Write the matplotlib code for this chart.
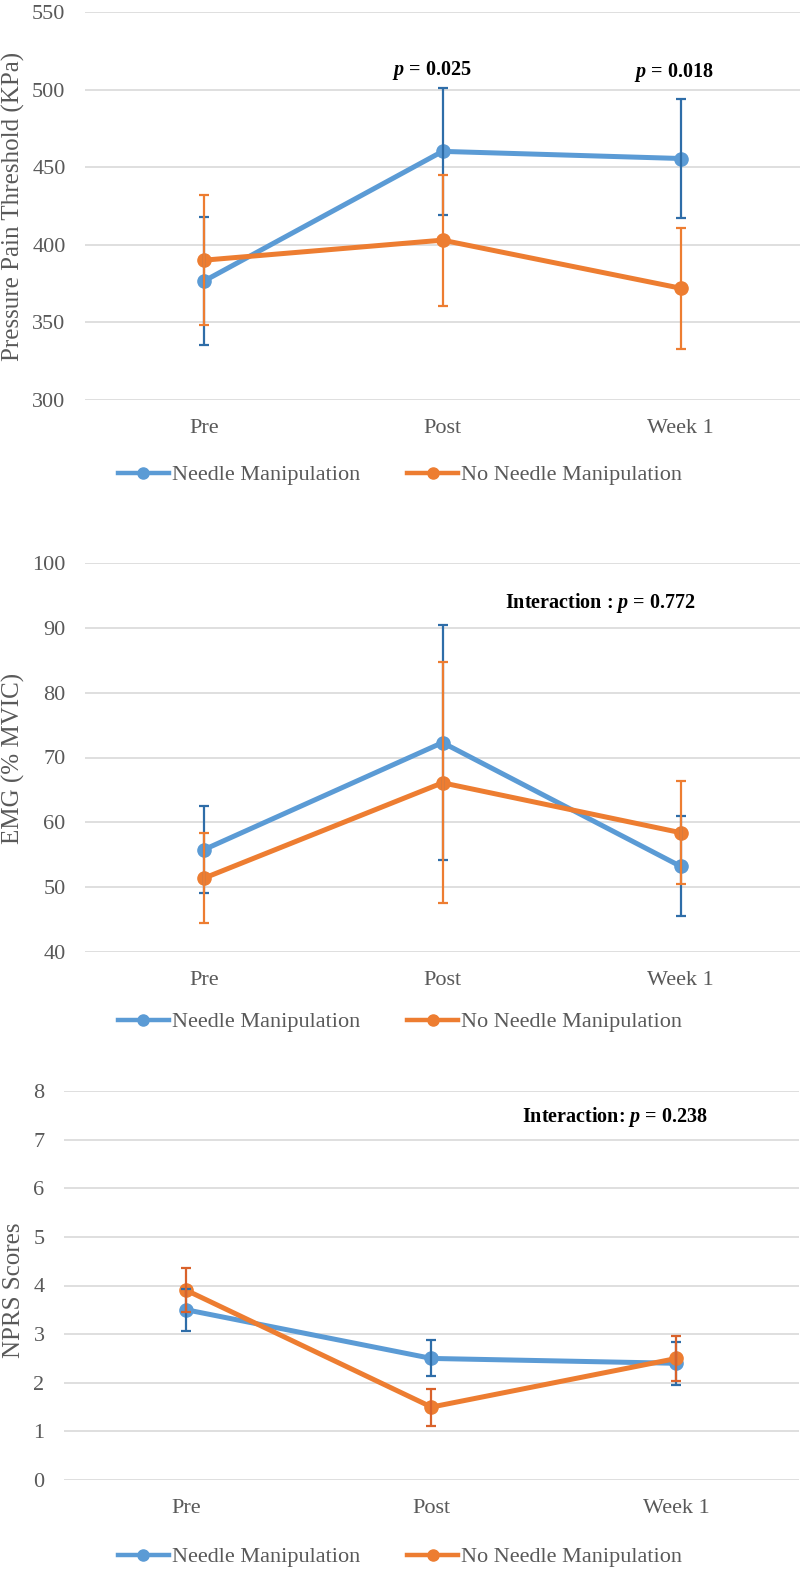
import matplotlib.pyplot as plt
from matplotlib.lines import Line2D

plt.rcParams['font.family'] = ['Liberation Serif', 'DejaVu Serif']
plt.rcParams['mathtext.fontset'] = 'custom'
plt.rcParams['mathtext.it'] = 'Liberation Serif:style=italic:weight=bold'
plt.rcParams['mathtext.rm'] = 'Liberation Serif:weight=bold'

# data
times = ['Pre', 'Post', 'Week 1']
groups = ['Needle Manipulation', 'No Needle Manipulation']

ppt_needle = [376.7, 460.2, 455.6]
ppt_needle_err = [41.2, 40.8, 38.3]
ppt_no = [390.1, 403.0, 372.0]
ppt_no_err = [42.0, 42.2, 39.1]

emg_needle = [55.8, 72.3, 53.2]
emg_needle_err = [6.75, 18.1, 7.7]
emg_no = [51.4, 66.1, 58.4]
emg_no_err = [6.9, 18.6, 7.9]

nprs_needle = [3.5, 2.5, 2.4]
nprs_needle_err = [0.43, 0.37, 0.44]
nprs_no = [3.9, 1.5, 2.5]
nprs_no_err = [0.45, 0.38, 0.47]

blue = '#5B9BD5'
orange = '#ED7D31'
blue_err = '#2E6DA8'
grey = '#595959'

W, H = 800, 1571
fig = plt.figure(figsize=(W / 100, H / 100), dpi=100)


def px_axes(left, right, top, bottom):
    return fig.add_axes([left / W, 1 - bottom / H, (right - left) / W, (bottom - top) / H])


def panel(ax, yn, en, yo, eo, ylim, yticks, orange_err):
    x = range(len(times))
    ax.plot(x, yn, color=blue, lw=3.6, marker='o', ms=9.5, zorder=3, label=groups[0])
    ax.plot(x, yo, color=orange, lw=3.6, marker='o', ms=9.5, zorder=4, label=groups[1])
    ax.errorbar(x, yn, yerr=en, fmt='none', ecolor=blue_err, elinewidth=1.6,
                capsize=3.6, capthick=1.6, zorder=5)
    ax.errorbar(x, yo, yerr=eo, fmt='none', ecolor=orange_err, elinewidth=1.6,
                capsize=3.6, capthick=1.6, zorder=6)
    ax.set_xlim(-0.5, 2.5)
    ax.set_ylim(*ylim)
    ax.set_yticks(yticks)
    ax.set_xticks(list(x))
    ax.set_xticklabels(times)
    ax.grid(axis='y', color='#d9d9d9', lw=1.2)
    ax.set_axisbelow(True)
    for s in ax.spines.values():
        s.set_visible(False)
    ax.tick_params(length=0, labelsize=16, colors=grey)
    ax.tick_params(axis='y', pad=14)
    ax.tick_params(axis='x', pad=14)


def legend(ax, y):
    handles = [Line2D([], [], color=blue, lw=3.2, marker='o', ms=8),
               Line2D([], [], color=orange, lw=3.2, marker='o', ms=8)]
    ax.legend(handles, groups, loc='center', bbox_to_anchor=(400 / W, 1 - y / H),
              bbox_transform=fig.transFigure, ncol=2, frameon=False, fontsize=16,
              handlelength=2.3, handletextpad=0.15, columnspacing=2.1,
              labelcolor=grey)


# panel 1: pressure pain threshold
ax1 = px_axes(85, 800, 12, 400)
panel(ax1, ppt_needle, ppt_needle_err, ppt_no, ppt_no_err, (300, 550),
      [300, 350, 400, 450, 500, 550], orange)
legend(ax1, 475)
fig.text(13 / W, 1 - 206 / H, 'Pressure Pain Threshold (KPa)', rotation=90,
         ha='center', va='center', fontsize=18, color=grey)
fig.text(432 / W, 1 - 70 / H, '$p$ = 0.025', ha='center', va='center',
         fontsize=14.5, fontweight='bold')
fig.text(674 / W, 1 - 73 / H, '$p$ = 0.018', ha='center', va='center',
         fontsize=14.5, fontweight='bold')

# panel 2: EMG
ax2 = px_axes(85, 800, 563, 952)
panel(ax2, emg_needle, emg_needle_err, emg_no, emg_no_err, (40, 100),
      [40, 50, 60, 70, 80, 90, 100], orange)
legend(ax2, 1022)
fig.text(13 / W, 1 - 758 / H, 'EMG (% MVIC)', rotation=90,
         ha='center', va='center', fontsize=18, color=grey)
fig.text(600 / W, 1 - 603 / H, 'Interaction : $p$ = 0.772', ha='center', va='center',
         fontsize=14.5, fontweight='bold')

# panel 3: NPRS
ax3 = px_axes(64, 799, 1091, 1480)
panel(ax3, nprs_needle, nprs_needle_err, nprs_no, nprs_no_err, (0, 8),
      list(range(9)), '#D9622B')
legend(ax3, 1557)
fig.text(14 / W, 1 - 1290 / H, 'NPRS Scores', rotation=90,
         ha='center', va='center', fontsize=18, color=grey)
fig.text(615 / W, 1 - 1117 / H, 'Interaction: $p$ = 0.238', ha='center', va='center',
         fontsize=14.5, fontweight='bold')

fig.savefig('out.png', dpi=100)
